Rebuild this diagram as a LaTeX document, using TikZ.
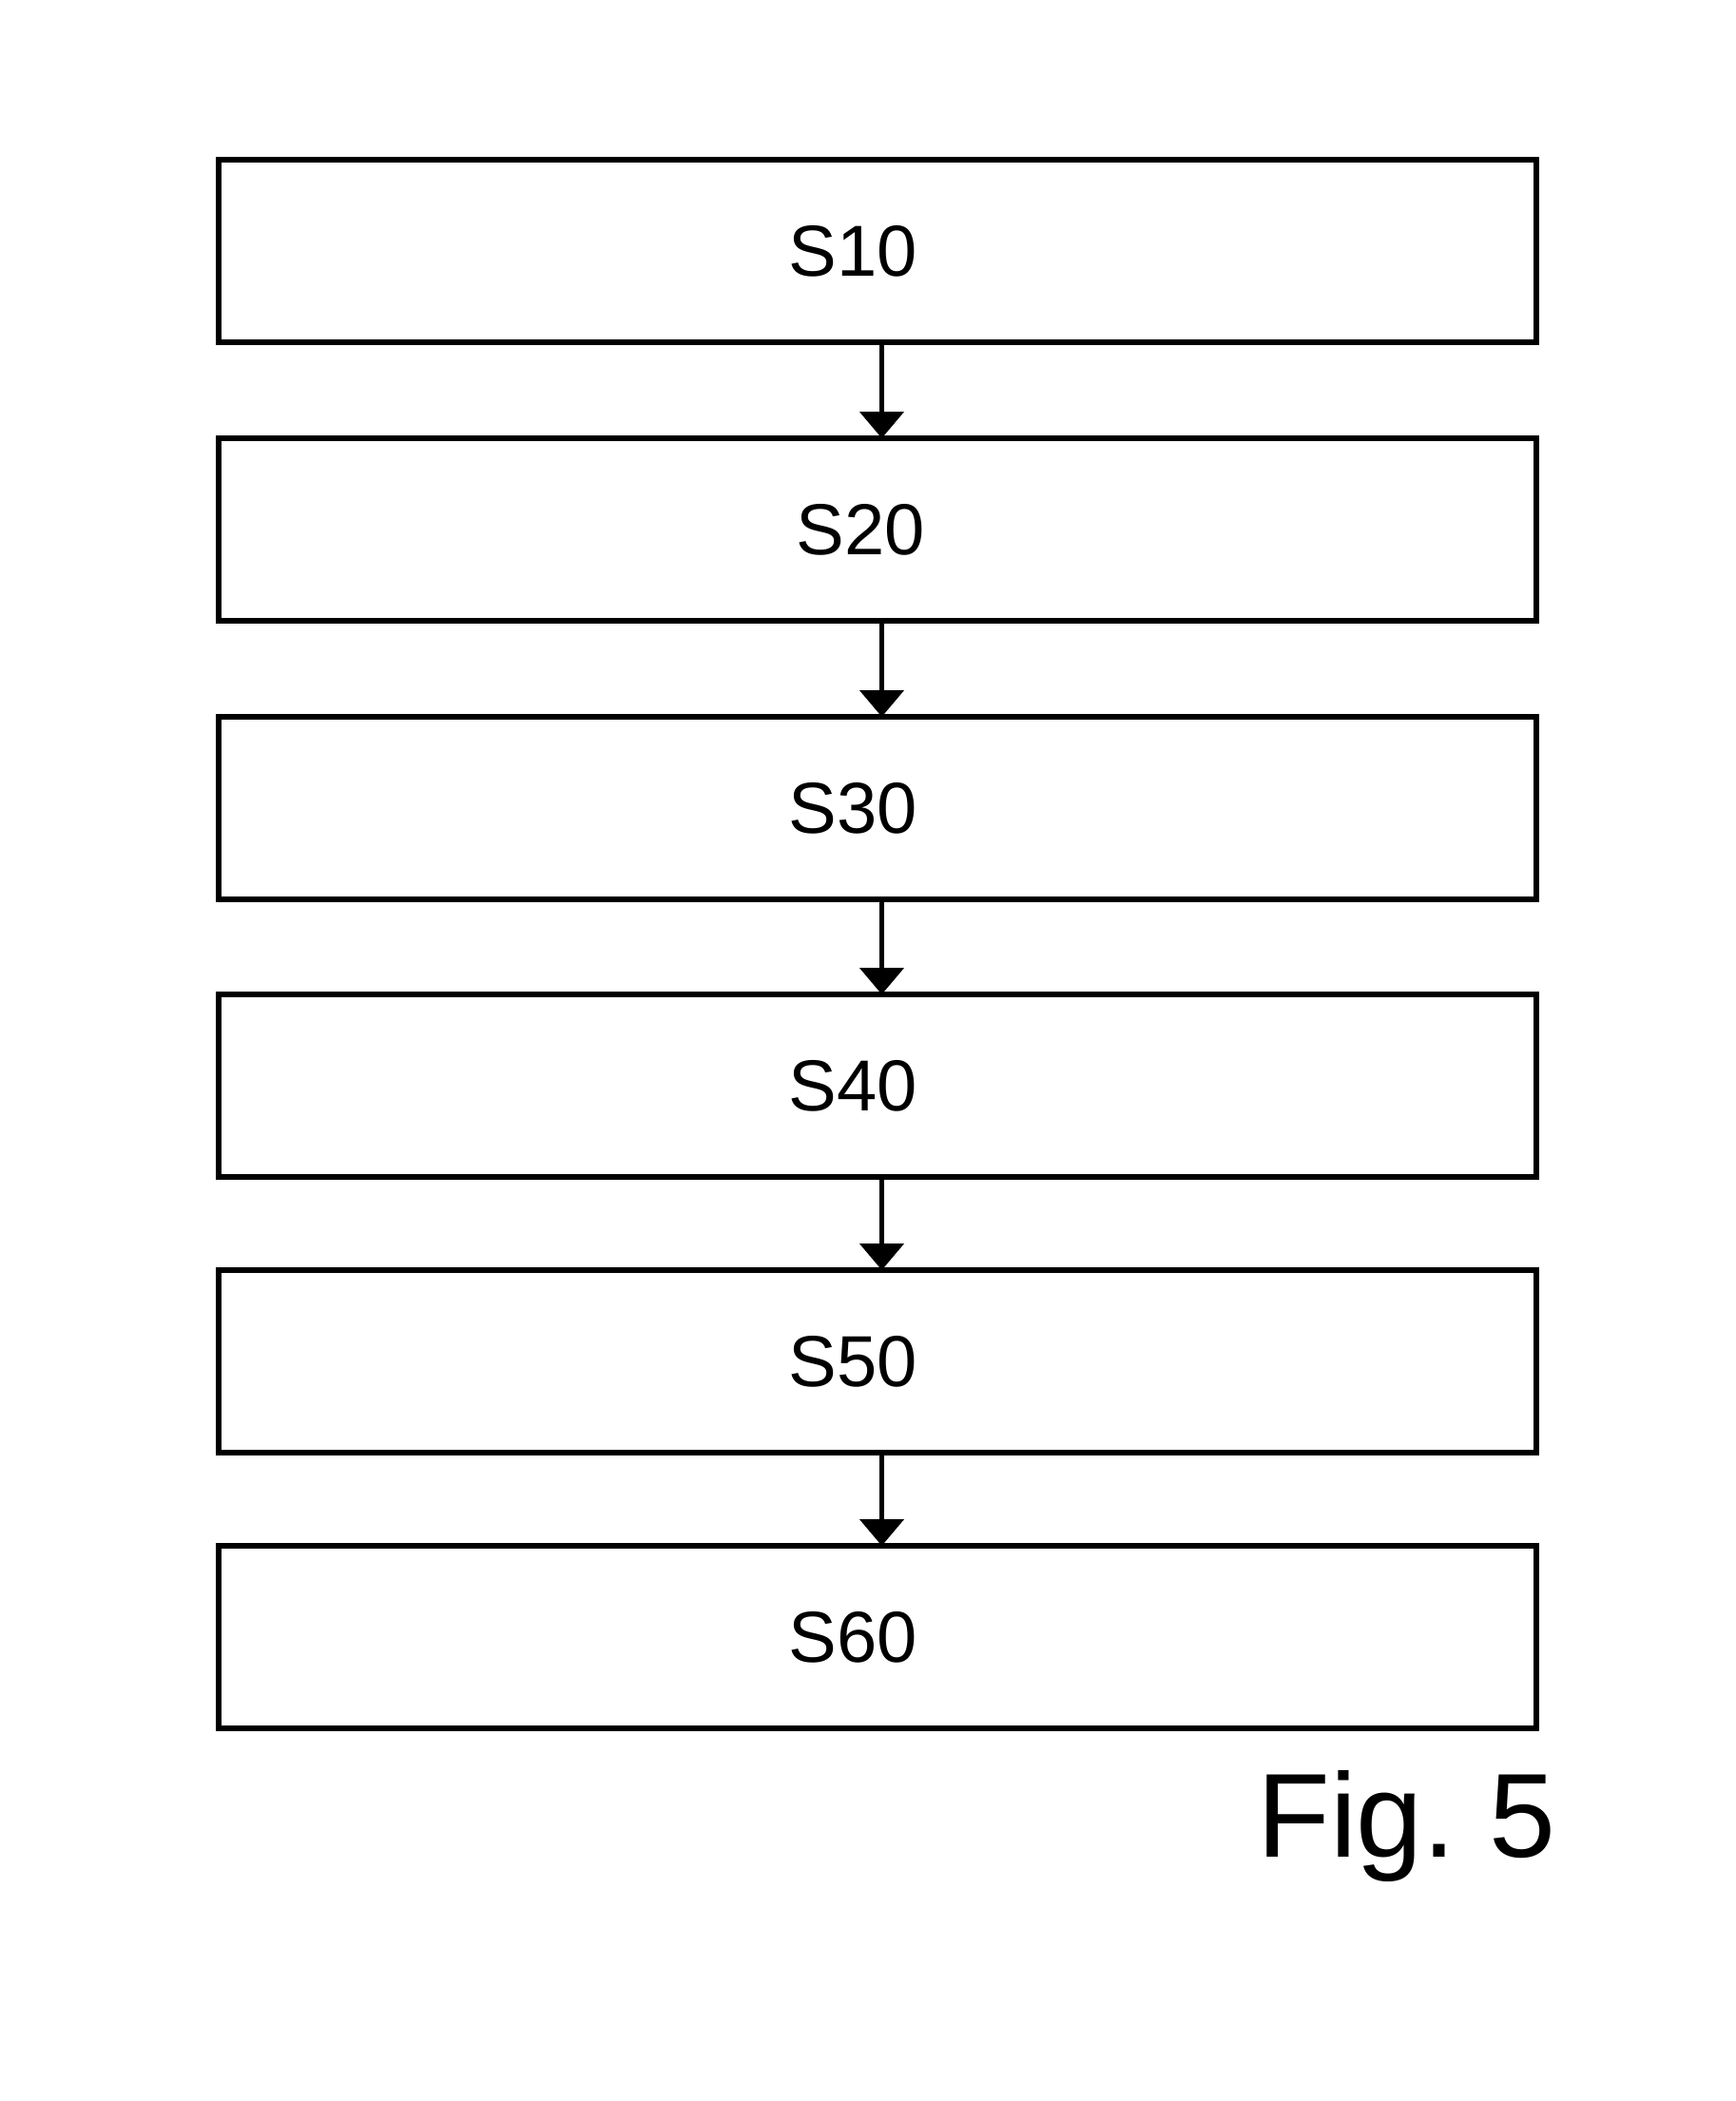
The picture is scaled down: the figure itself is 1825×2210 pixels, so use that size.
\documentclass[tikz,border=0pt]{standalone}
\usepackage{fontspec}
\setmainfont{Liberation Sans}
\usetikzlibrary{arrows.meta}
\begin{document}
\begin{tikzpicture}[x=1pt,y=-1pt,
  stepbox/.style={draw=black,line width=5.3pt,minimum width=1386pt,minimum height=192pt,inner sep=0pt,outer sep=0pt,anchor=north west},
  steptext/.style={font=\fontsize{76}{90}\selectfont,inner sep=0pt},
  flow/.style={line width=5pt,-{Triangle[width=46pt,length=28pt]}}]
\useasboundingbox[fill=white] (0,0) rectangle (1825,2210);
\node[stepbox] (b1) at (230,168) {};
\node[stepbox] (b2) at (230,461) {};
\node[stepbox] (b3) at (230,754) {};
\node[stepbox] (b4) at (230,1046) {};
\node[stepbox] (b5) at (230,1336) {};
\node[stepbox] (b6) at (230,1626) {};
\node[steptext] (t1) at ([xshift=-26pt]b1.center) {S10};
\node[steptext] (t2) at ([xshift=-18pt]b2.center) {S20};
\node[steptext] (t3) at ([xshift=-26pt]b3.center) {S30};
\node[steptext] (t4) at ([xshift=-26pt]b4.center) {S40};
\node[steptext] (t5) at ([xshift=-26pt]b5.center) {S50};
\node[steptext] (t6) at ([xshift=-26pt]b6.center) {S60};
\foreach \a/\b in {b1/b2,b2/b3,b3/b4,b4/b5,b5/b6}
  \draw[flow] ([xshift=4.5pt]\a.south) -- ([xshift=4.5pt]\b.north);
\node[font=\fontsize{125.7}{140}\selectfont,inner sep=0pt,anchor=base west] (fig) at (1322,1953) {Fig.\hspace{35pt}5};
\end{tikzpicture}
\end{document}
